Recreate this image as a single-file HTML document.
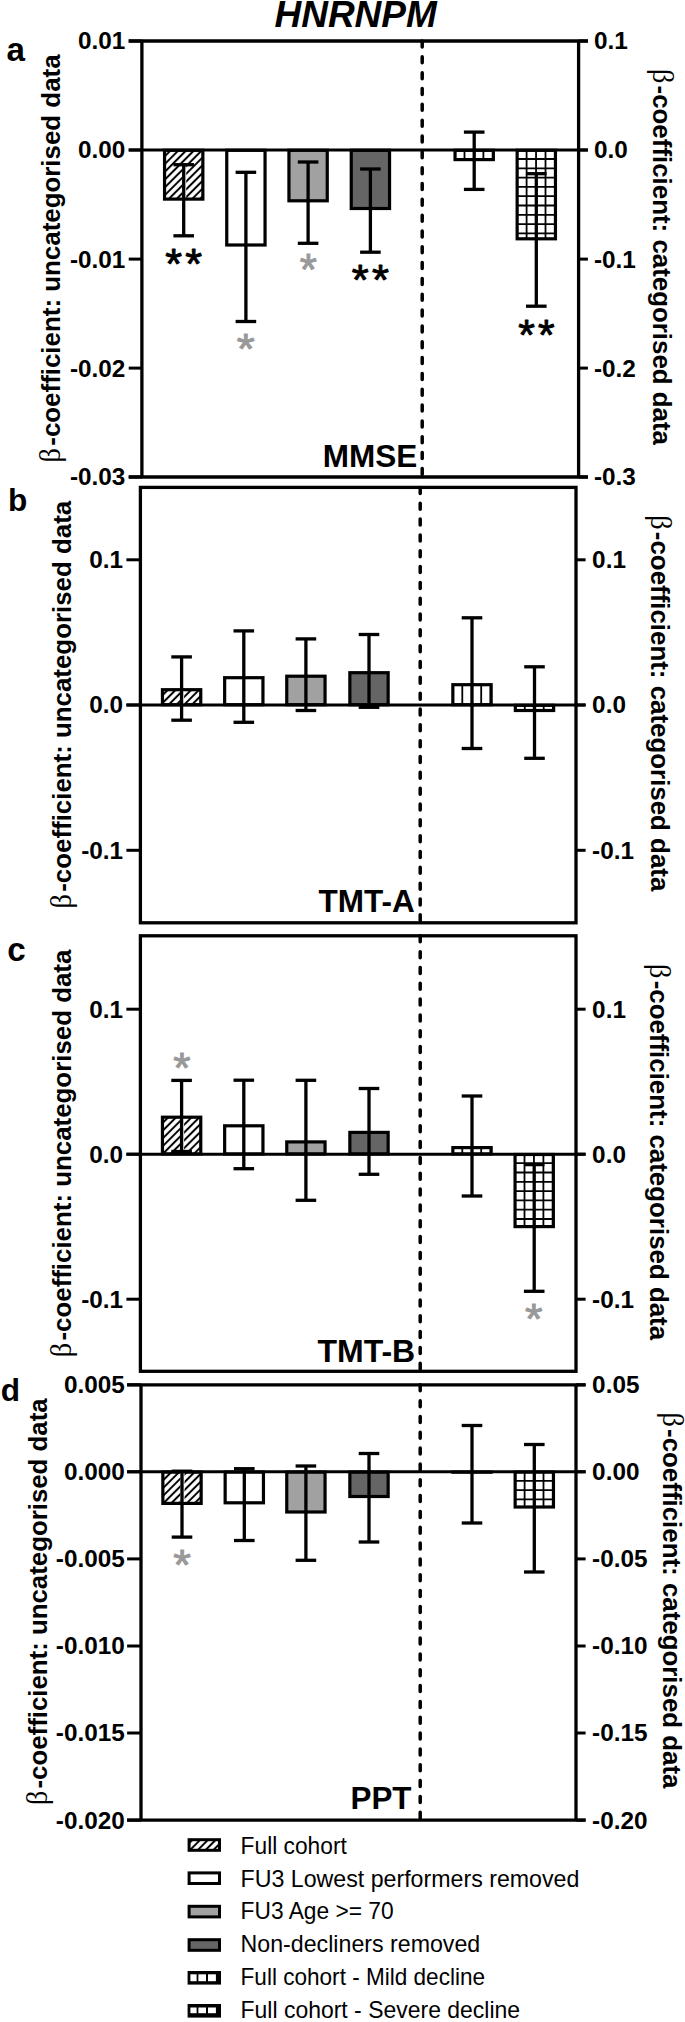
<!DOCTYPE html>
<html lang="en"><head><meta charset="utf-8"><title>HNRNPM</title>
<style>
html,body{margin:0;padding:0;background:#fff;}
body{width:685px;height:2022px;overflow:hidden;}
svg{display:block;}
text{white-space:pre;}
</style></head><body>
<svg width="685" height="2022" viewBox="0 0 685 2022">
<defs>
<pattern id="hatch" patternUnits="userSpaceOnUse" width="5.5" height="5.5" patternTransform="translate(6.08,0) rotate(-45)">
<rect width="5.5" height="5.5" fill="#fff"/><line x1="-1" y1="2.75" x2="6.5" y2="2.75" stroke="#000" stroke-width="2.0"/></pattern>
</defs>
<rect width="685" height="2022" fill="#fff"/>

<text transform="translate(274.46,27.17) scale(1.0000,1)" font-family="'Liberation Sans', Arial, Helvetica, sans-serif" font-size="37.01" font-weight="bold" font-style="italic" fill="#000">HNRNPM</text>
<rect x="164.55" y="150.30" width="38.30" height="48.80" fill="url(#hatch)" stroke="none"/>
<rect x="164.55" y="150.30" width="38.30" height="48.80" fill="none" stroke="#000" stroke-width="3.2"/>
<rect x="226.75" y="150.30" width="38.30" height="94.70" fill="#fff" stroke="none"/>
<rect x="226.75" y="150.30" width="38.30" height="94.70" fill="none" stroke="#000" stroke-width="3.2"/>
<rect x="288.95" y="150.30" width="38.30" height="50.50" fill="#a1a1a1" stroke="none"/>
<rect x="288.95" y="150.30" width="38.30" height="50.50" fill="none" stroke="#000" stroke-width="3.2"/>
<rect x="351.25" y="150.30" width="38.30" height="58.20" fill="#656565" stroke="none"/>
<rect x="351.25" y="150.30" width="38.30" height="58.20" fill="none" stroke="#000" stroke-width="3.2"/>
<rect x="455.05" y="150.30" width="38.30" height="9.30" fill="#fff" stroke="none"/>
<line x1="464.50" y1="150.30" x2="464.50" y2="159.60" stroke="#000" stroke-width="1.8" />
<line x1="473.95" y1="150.30" x2="473.95" y2="159.60" stroke="#000" stroke-width="1.8" />
<line x1="483.40" y1="150.30" x2="483.40" y2="159.60" stroke="#000" stroke-width="1.8" />
<line x1="492.85" y1="150.30" x2="492.85" y2="159.60" stroke="#000" stroke-width="1.8" />
<rect x="455.05" y="150.30" width="38.30" height="9.30" fill="none" stroke="#000" stroke-width="3.2"/>
<rect x="517.15" y="150.30" width="38.30" height="88.50" fill="#fff" stroke="none"/>
<line x1="526.60" y1="150.30" x2="526.60" y2="238.80" stroke="#000" stroke-width="1.8" />
<line x1="536.05" y1="150.30" x2="536.05" y2="238.80" stroke="#000" stroke-width="1.8" />
<line x1="545.50" y1="150.30" x2="545.50" y2="238.80" stroke="#000" stroke-width="1.8" />
<line x1="554.95" y1="150.30" x2="554.95" y2="238.80" stroke="#000" stroke-width="1.8" />
<line x1="517.15" y1="159.00" x2="555.45" y2="159.00" stroke="#000" stroke-width="1.8" />
<line x1="517.15" y1="168.30" x2="555.45" y2="168.30" stroke="#000" stroke-width="1.8" />
<line x1="517.15" y1="177.60" x2="555.45" y2="177.60" stroke="#000" stroke-width="1.8" />
<line x1="517.15" y1="186.90" x2="555.45" y2="186.90" stroke="#000" stroke-width="1.8" />
<line x1="517.15" y1="196.20" x2="555.45" y2="196.20" stroke="#000" stroke-width="1.8" />
<line x1="517.15" y1="205.50" x2="555.45" y2="205.50" stroke="#000" stroke-width="1.8" />
<line x1="517.15" y1="214.80" x2="555.45" y2="214.80" stroke="#000" stroke-width="1.8" />
<line x1="517.15" y1="224.10" x2="555.45" y2="224.10" stroke="#000" stroke-width="1.8" />
<line x1="517.15" y1="233.40" x2="555.45" y2="233.40" stroke="#000" stroke-width="1.8" />
<rect x="517.15" y="150.30" width="38.30" height="88.50" fill="none" stroke="#000" stroke-width="3.2"/>
<line x1="141.90" y1="41.00" x2="141.90" y2="477.00" stroke="#000" stroke-width="3.3" />
<line x1="578.60" y1="41.00" x2="578.60" y2="477.00" stroke="#000" stroke-width="3.3" />
<line x1="128.70" y1="41.00" x2="141.90" y2="41.00" stroke="#000" stroke-width="3.0" />
<text transform="translate(125.40,49.40) scale(1.04,1)" font-family="'Liberation Sans', Arial, Helvetica, sans-serif" font-size="23.4" font-weight="bold" text-anchor="end" fill="#000">0.01</text>
<line x1="128.70" y1="150.00" x2="141.90" y2="150.00" stroke="#000" stroke-width="3.0" />
<text transform="translate(125.40,158.40) scale(1.04,1)" font-family="'Liberation Sans', Arial, Helvetica, sans-serif" font-size="23.4" font-weight="bold" text-anchor="end" fill="#000">0.00</text>
<line x1="128.70" y1="259.10" x2="141.90" y2="259.10" stroke="#000" stroke-width="3.0" />
<text transform="translate(125.40,267.50) scale(1.04,1)" font-family="'Liberation Sans', Arial, Helvetica, sans-serif" font-size="23.4" font-weight="bold" text-anchor="end" fill="#000">-0.01</text>
<line x1="128.70" y1="368.10" x2="141.90" y2="368.10" stroke="#000" stroke-width="3.0" />
<text transform="translate(125.40,376.50) scale(1.04,1)" font-family="'Liberation Sans', Arial, Helvetica, sans-serif" font-size="23.4" font-weight="bold" text-anchor="end" fill="#000">-0.02</text>
<line x1="128.70" y1="477.00" x2="141.90" y2="477.00" stroke="#000" stroke-width="3.0" />
<text transform="translate(125.40,485.40) scale(1.04,1)" font-family="'Liberation Sans', Arial, Helvetica, sans-serif" font-size="23.4" font-weight="bold" text-anchor="end" fill="#000">-0.03</text>
<line x1="578.60" y1="41.00" x2="587.90" y2="41.00" stroke="#000" stroke-width="3.0" />
<text transform="translate(593.90,49.40) scale(1.04,1)" font-family="'Liberation Sans', Arial, Helvetica, sans-serif" font-size="23.4" font-weight="bold" text-anchor="start" fill="#000">0.1</text>
<line x1="578.60" y1="150.00" x2="587.90" y2="150.00" stroke="#000" stroke-width="3.0" />
<text transform="translate(593.90,158.40) scale(1.04,1)" font-family="'Liberation Sans', Arial, Helvetica, sans-serif" font-size="23.4" font-weight="bold" text-anchor="start" fill="#000">0.0</text>
<line x1="578.60" y1="259.10" x2="587.90" y2="259.10" stroke="#000" stroke-width="3.0" />
<text transform="translate(593.90,267.50) scale(1.04,1)" font-family="'Liberation Sans', Arial, Helvetica, sans-serif" font-size="23.4" font-weight="bold" text-anchor="start" fill="#000">-0.1</text>
<line x1="578.60" y1="368.10" x2="587.90" y2="368.10" stroke="#000" stroke-width="3.0" />
<text transform="translate(593.90,376.50) scale(1.04,1)" font-family="'Liberation Sans', Arial, Helvetica, sans-serif" font-size="23.4" font-weight="bold" text-anchor="start" fill="#000">-0.2</text>
<line x1="578.60" y1="477.00" x2="587.90" y2="477.00" stroke="#000" stroke-width="3.0" />
<text transform="translate(593.90,485.40) scale(1.04,1)" font-family="'Liberation Sans', Arial, Helvetica, sans-serif" font-size="23.4" font-weight="bold" text-anchor="start" fill="#000">-0.3</text>
<line x1="128.70" y1="41.00" x2="587.90" y2="41.00" stroke="#000" stroke-width="3.3" />
<line x1="128.70" y1="477.00" x2="587.90" y2="477.00" stroke="#000" stroke-width="3.3" />
<line x1="128.70" y1="150.00" x2="587.90" y2="150.00" stroke="#000" stroke-width="3.1" />
<line x1="422.20" y1="41.00" x2="422.20" y2="477.00" stroke="#000" stroke-width="3.5" stroke-dasharray="6.0 9.83" stroke-linecap="round"/>
<rect x="182.05" y="166.35" width="4.20" height="31.15" fill="#fff"/>
<line x1="183.70" y1="164.70" x2="183.70" y2="235.80" stroke="#000" stroke-width="3.3" />
<line x1="173.40" y1="164.70" x2="194.00" y2="164.70" stroke="#000" stroke-width="3.3" />
<line x1="173.40" y1="235.80" x2="194.00" y2="235.80" stroke="#000" stroke-width="3.3" />
<line x1="245.90" y1="172.30" x2="245.90" y2="321.50" stroke="#000" stroke-width="3.3" />
<line x1="235.60" y1="172.30" x2="256.20" y2="172.30" stroke="#000" stroke-width="3.3" />
<line x1="235.60" y1="321.50" x2="256.20" y2="321.50" stroke="#000" stroke-width="3.3" />
<line x1="308.10" y1="162.00" x2="308.10" y2="243.30" stroke="#000" stroke-width="3.3" />
<line x1="297.80" y1="162.00" x2="318.40" y2="162.00" stroke="#000" stroke-width="3.3" />
<line x1="297.80" y1="243.30" x2="318.40" y2="243.30" stroke="#000" stroke-width="3.3" />
<line x1="370.40" y1="169.00" x2="370.40" y2="252.20" stroke="#000" stroke-width="3.3" />
<line x1="360.10" y1="169.00" x2="380.70" y2="169.00" stroke="#000" stroke-width="3.3" />
<line x1="360.10" y1="252.20" x2="380.70" y2="252.20" stroke="#000" stroke-width="3.3" />
<line x1="474.20" y1="132.10" x2="474.20" y2="189.40" stroke="#000" stroke-width="3.3" />
<line x1="463.90" y1="132.10" x2="484.50" y2="132.10" stroke="#000" stroke-width="3.3" />
<line x1="463.90" y1="189.40" x2="484.50" y2="189.40" stroke="#000" stroke-width="3.3" />
<line x1="536.30" y1="173.70" x2="536.30" y2="306.20" stroke="#000" stroke-width="3.3" />
<line x1="526.00" y1="173.70" x2="546.60" y2="173.70" stroke="#000" stroke-width="3.3" />
<line x1="526.00" y1="306.20" x2="546.60" y2="306.20" stroke="#000" stroke-width="3.3" />
<text transform="translate(165.17,278.48) scale(1.0028,1)" font-family="'Liberation Sans', Arial, Helvetica, sans-serif" font-size="42.97" font-weight="normal" fill="#000"><tspan stroke="#000" stroke-width="0.022em" stroke-linejoin="round" letter-spacing="0.075em">**</tspan></text>
<text transform="translate(236.84,363.29) scale(1.0823,1)" font-family="'Liberation Sans', Arial, Helvetica, sans-serif" font-size="42.70" font-weight="normal" fill="#999999"><tspan stroke="#999999" stroke-width="0.022em" stroke-linejoin="round">*</tspan></text>
<text transform="translate(299.86,285.16) scale(1.0124,1)" font-family="'Liberation Sans', Arial, Helvetica, sans-serif" font-size="43.51" font-weight="normal" fill="#999999"><tspan stroke="#999999" stroke-width="0.022em" stroke-linejoin="round">*</tspan></text>
<text transform="translate(351.66,293.90) scale(1.0268,1)" font-family="'Liberation Sans', Arial, Helvetica, sans-serif" font-size="42.43" font-weight="normal" fill="#000"><tspan stroke="#000" stroke-width="0.022em" stroke-linejoin="round" letter-spacing="0.075em">**</tspan></text>
<text transform="translate(518.27,348.77) scale(0.9856,1)" font-family="'Liberation Sans', Arial, Helvetica, sans-serif" font-size="43.24" font-weight="normal" fill="#000"><tspan stroke="#000" stroke-width="0.022em" stroke-linejoin="round" letter-spacing="0.075em">**</tspan></text>
<text transform="translate(322.79,466.53) scale(1.0000,1)" font-family="'Liberation Sans', Arial, Helvetica, sans-serif" font-size="31.52" font-weight="bold" fill="#000">MMSE</text>
<text transform="translate(6.56,60.80) scale(1.0000,1)" font-family="'Liberation Sans', Arial, Helvetica, sans-serif" font-size="33.20" font-weight="bold" fill="#000">a</text>
<text transform="translate(60.20,462.41) rotate(-90) scale(0.9962,1.02)" font-family="'Liberation Sans', Arial, Helvetica, sans-serif" font-size="26.00" font-weight="bold" fill="#000"><tspan font-family="'Liberation Serif', 'Times New Roman', serif" font-weight="normal" font-size="1.09em">β</tspan><tspan dx="0.09em">-coefficient: uncategorised data</tspan></text>
<text transform="translate(652.70,68.89) rotate(90) scale(0.9960,1.02)" font-family="'Liberation Sans', Arial, Helvetica, sans-serif" font-size="26.00" font-weight="bold" fill="#000"><tspan font-family="'Liberation Serif', 'Times New Roman', serif" font-weight="normal" font-size="1.09em">β</tspan><tspan dx="0.09em">-coefficient: categorised data</tspan></text>
<rect x="162.45" y="689.70" width="38.30" height="15.00" fill="url(#hatch)" stroke="none"/>
<rect x="162.45" y="689.70" width="38.30" height="15.00" fill="none" stroke="#000" stroke-width="3.2"/>
<rect x="224.65" y="677.70" width="38.30" height="27.00" fill="#fff" stroke="none"/>
<rect x="224.65" y="677.70" width="38.30" height="27.00" fill="none" stroke="#000" stroke-width="3.2"/>
<rect x="286.75" y="676.20" width="38.30" height="28.50" fill="#a1a1a1" stroke="none"/>
<rect x="286.75" y="676.20" width="38.30" height="28.50" fill="none" stroke="#000" stroke-width="3.2"/>
<rect x="349.85" y="672.70" width="38.30" height="32.00" fill="#656565" stroke="none"/>
<rect x="349.85" y="672.70" width="38.30" height="32.00" fill="none" stroke="#000" stroke-width="3.2"/>
<rect x="452.85" y="684.70" width="38.30" height="20.00" fill="#fff" stroke="none"/>
<line x1="462.30" y1="684.70" x2="462.30" y2="704.70" stroke="#000" stroke-width="1.8" />
<line x1="471.75" y1="684.70" x2="471.75" y2="704.70" stroke="#000" stroke-width="1.8" />
<line x1="481.20" y1="684.70" x2="481.20" y2="704.70" stroke="#000" stroke-width="1.8" />
<line x1="490.65" y1="684.70" x2="490.65" y2="704.70" stroke="#000" stroke-width="1.8" />
<rect x="452.85" y="684.70" width="38.30" height="20.00" fill="none" stroke="#000" stroke-width="3.2"/>
<rect x="515.35" y="705.30" width="38.30" height="5.20" fill="#fff" stroke="none"/>
<line x1="524.80" y1="705.30" x2="524.80" y2="710.50" stroke="#000" stroke-width="1.8" />
<line x1="534.25" y1="705.30" x2="534.25" y2="710.50" stroke="#000" stroke-width="1.8" />
<line x1="543.70" y1="705.30" x2="543.70" y2="710.50" stroke="#000" stroke-width="1.8" />
<line x1="553.15" y1="705.30" x2="553.15" y2="710.50" stroke="#000" stroke-width="1.8" />
<rect x="515.35" y="705.30" width="38.30" height="5.20" fill="none" stroke="#000" stroke-width="3.2"/>
<rect x="140.40" y="487.40" width="435.60" height="435.40" fill="none" stroke="#000" stroke-width="3.3"/>
<line x1="126.40" y1="559.80" x2="140.40" y2="559.80" stroke="#000" stroke-width="3.0" />
<text transform="translate(123.10,568.20) scale(1.04,1)" font-family="'Liberation Sans', Arial, Helvetica, sans-serif" font-size="23.4" font-weight="bold" text-anchor="end" fill="#000">0.1</text>
<line x1="126.40" y1="705.00" x2="140.40" y2="705.00" stroke="#000" stroke-width="3.0" />
<text transform="translate(123.10,713.40) scale(1.04,1)" font-family="'Liberation Sans', Arial, Helvetica, sans-serif" font-size="23.4" font-weight="bold" text-anchor="end" fill="#000">0.0</text>
<line x1="126.40" y1="850.30" x2="140.40" y2="850.30" stroke="#000" stroke-width="3.0" />
<text transform="translate(123.10,858.70) scale(1.04,1)" font-family="'Liberation Sans', Arial, Helvetica, sans-serif" font-size="23.4" font-weight="bold" text-anchor="end" fill="#000">-0.1</text>
<line x1="576.00" y1="559.80" x2="585.60" y2="559.80" stroke="#000" stroke-width="3.0" />
<text transform="translate(592.10,568.20) scale(1.04,1)" font-family="'Liberation Sans', Arial, Helvetica, sans-serif" font-size="23.4" font-weight="bold" text-anchor="start" fill="#000">0.1</text>
<line x1="576.00" y1="705.00" x2="585.60" y2="705.00" stroke="#000" stroke-width="3.0" />
<text transform="translate(592.10,713.40) scale(1.04,1)" font-family="'Liberation Sans', Arial, Helvetica, sans-serif" font-size="23.4" font-weight="bold" text-anchor="start" fill="#000">0.0</text>
<line x1="576.00" y1="850.30" x2="585.60" y2="850.30" stroke="#000" stroke-width="3.0" />
<text transform="translate(592.10,858.70) scale(1.04,1)" font-family="'Liberation Sans', Arial, Helvetica, sans-serif" font-size="23.4" font-weight="bold" text-anchor="start" fill="#000">-0.1</text>
<line x1="126.40" y1="705.00" x2="585.60" y2="705.00" stroke="#000" stroke-width="3.1" />
<line x1="420.20" y1="487.40" x2="420.20" y2="922.80" stroke="#000" stroke-width="3.5" stroke-dasharray="6.0 9.83" stroke-linecap="round"/>
<rect x="179.95" y="691.30" width="4.20" height="12.10" fill="#fff"/>
<line x1="181.60" y1="656.90" x2="181.60" y2="720.20" stroke="#000" stroke-width="3.3" />
<line x1="171.30" y1="656.90" x2="191.90" y2="656.90" stroke="#000" stroke-width="3.3" />
<line x1="171.30" y1="720.20" x2="191.90" y2="720.20" stroke="#000" stroke-width="3.3" />
<line x1="243.80" y1="630.90" x2="243.80" y2="722.30" stroke="#000" stroke-width="3.3" />
<line x1="233.50" y1="630.90" x2="254.10" y2="630.90" stroke="#000" stroke-width="3.3" />
<line x1="233.50" y1="722.30" x2="254.10" y2="722.30" stroke="#000" stroke-width="3.3" />
<line x1="305.90" y1="638.90" x2="305.90" y2="710.50" stroke="#000" stroke-width="3.3" />
<line x1="295.60" y1="638.90" x2="316.20" y2="638.90" stroke="#000" stroke-width="3.3" />
<line x1="295.60" y1="710.50" x2="316.20" y2="710.50" stroke="#000" stroke-width="3.3" />
<line x1="369.00" y1="634.50" x2="369.00" y2="707.30" stroke="#000" stroke-width="3.3" />
<line x1="358.70" y1="634.50" x2="379.30" y2="634.50" stroke="#000" stroke-width="3.3" />
<line x1="358.70" y1="707.30" x2="379.30" y2="707.30" stroke="#000" stroke-width="3.3" />
<line x1="472.00" y1="617.80" x2="472.00" y2="748.50" stroke="#000" stroke-width="3.3" />
<line x1="461.70" y1="617.80" x2="482.30" y2="617.80" stroke="#000" stroke-width="3.3" />
<line x1="461.70" y1="748.50" x2="482.30" y2="748.50" stroke="#000" stroke-width="3.3" />
<line x1="534.50" y1="666.80" x2="534.50" y2="758.30" stroke="#000" stroke-width="3.3" />
<line x1="524.20" y1="666.80" x2="544.80" y2="666.80" stroke="#000" stroke-width="3.3" />
<line x1="524.20" y1="758.30" x2="544.80" y2="758.30" stroke="#000" stroke-width="3.3" />
<text transform="translate(318.58,912.33) scale(1.0000,1)" font-family="'Liberation Sans', Arial, Helvetica, sans-serif" font-size="31.53" font-weight="bold" fill="#000">TMT-A</text>
<text transform="translate(8.04,510.78) scale(1.0000,1)" font-family="'Liberation Sans', Arial, Helvetica, sans-serif" font-size="31.60" font-weight="bold" fill="#000">b</text>
<text transform="translate(71.20,908.41) rotate(-90) scale(0.9952,1.02)" font-family="'Liberation Sans', Arial, Helvetica, sans-serif" font-size="26.00" font-weight="bold" fill="#000"><tspan font-family="'Liberation Serif', 'Times New Roman', serif" font-weight="normal" font-size="1.09em">β</tspan><tspan dx="0.09em">-coefficient: uncategorised data</tspan></text>
<text transform="translate(650.60,515.19) rotate(90) scale(0.9960,1.02)" font-family="'Liberation Sans', Arial, Helvetica, sans-serif" font-size="26.00" font-weight="bold" fill="#000"><tspan font-family="'Liberation Serif', 'Times New Roman', serif" font-weight="normal" font-size="1.09em">β</tspan><tspan dx="0.09em">-coefficient: categorised data</tspan></text>
<rect x="162.45" y="1117.20" width="38.30" height="36.70" fill="url(#hatch)" stroke="none"/>
<rect x="162.45" y="1117.20" width="38.30" height="36.70" fill="none" stroke="#000" stroke-width="3.2"/>
<rect x="224.65" y="1125.80" width="38.30" height="28.10" fill="#fff" stroke="none"/>
<rect x="224.65" y="1125.80" width="38.30" height="28.10" fill="none" stroke="#000" stroke-width="3.2"/>
<rect x="286.75" y="1141.90" width="38.30" height="12.00" fill="#a1a1a1" stroke="none"/>
<rect x="286.75" y="1141.90" width="38.30" height="12.00" fill="none" stroke="#000" stroke-width="3.2"/>
<rect x="349.85" y="1132.40" width="38.30" height="21.50" fill="#656565" stroke="none"/>
<rect x="349.85" y="1132.40" width="38.30" height="21.50" fill="none" stroke="#000" stroke-width="3.2"/>
<rect x="452.85" y="1147.60" width="38.30" height="6.30" fill="#fff" stroke="none"/>
<line x1="462.30" y1="1147.60" x2="462.30" y2="1153.90" stroke="#000" stroke-width="1.8" />
<line x1="471.75" y1="1147.60" x2="471.75" y2="1153.90" stroke="#000" stroke-width="1.8" />
<line x1="481.20" y1="1147.60" x2="481.20" y2="1153.90" stroke="#000" stroke-width="1.8" />
<line x1="490.65" y1="1147.60" x2="490.65" y2="1153.90" stroke="#000" stroke-width="1.8" />
<rect x="452.85" y="1147.60" width="38.30" height="6.30" fill="none" stroke="#000" stroke-width="3.2"/>
<rect x="515.05" y="1154.50" width="38.30" height="72.10" fill="#fff" stroke="none"/>
<line x1="524.50" y1="1154.50" x2="524.50" y2="1226.60" stroke="#000" stroke-width="1.8" />
<line x1="533.95" y1="1154.50" x2="533.95" y2="1226.60" stroke="#000" stroke-width="1.8" />
<line x1="543.40" y1="1154.50" x2="543.40" y2="1226.60" stroke="#000" stroke-width="1.8" />
<line x1="552.85" y1="1154.50" x2="552.85" y2="1226.60" stroke="#000" stroke-width="1.8" />
<line x1="515.05" y1="1163.20" x2="553.35" y2="1163.20" stroke="#000" stroke-width="1.8" />
<line x1="515.05" y1="1172.50" x2="553.35" y2="1172.50" stroke="#000" stroke-width="1.8" />
<line x1="515.05" y1="1181.80" x2="553.35" y2="1181.80" stroke="#000" stroke-width="1.8" />
<line x1="515.05" y1="1191.10" x2="553.35" y2="1191.10" stroke="#000" stroke-width="1.8" />
<line x1="515.05" y1="1200.40" x2="553.35" y2="1200.40" stroke="#000" stroke-width="1.8" />
<line x1="515.05" y1="1209.70" x2="553.35" y2="1209.70" stroke="#000" stroke-width="1.8" />
<line x1="515.05" y1="1219.00" x2="553.35" y2="1219.00" stroke="#000" stroke-width="1.8" />
<rect x="515.05" y="1154.50" width="38.30" height="72.10" fill="none" stroke="#000" stroke-width="3.2"/>
<rect x="140.40" y="935.80" width="435.60" height="435.50" fill="none" stroke="#000" stroke-width="3.3"/>
<line x1="126.40" y1="1009.20" x2="140.40" y2="1009.20" stroke="#000" stroke-width="3.0" />
<text transform="translate(123.10,1017.60) scale(1.04,1)" font-family="'Liberation Sans', Arial, Helvetica, sans-serif" font-size="23.4" font-weight="bold" text-anchor="end" fill="#000">0.1</text>
<line x1="126.40" y1="1154.20" x2="140.40" y2="1154.20" stroke="#000" stroke-width="3.0" />
<text transform="translate(123.10,1162.60) scale(1.04,1)" font-family="'Liberation Sans', Arial, Helvetica, sans-serif" font-size="23.4" font-weight="bold" text-anchor="end" fill="#000">0.0</text>
<line x1="126.40" y1="1299.20" x2="140.40" y2="1299.20" stroke="#000" stroke-width="3.0" />
<text transform="translate(123.10,1307.60) scale(1.04,1)" font-family="'Liberation Sans', Arial, Helvetica, sans-serif" font-size="23.4" font-weight="bold" text-anchor="end" fill="#000">-0.1</text>
<line x1="576.00" y1="1009.20" x2="585.60" y2="1009.20" stroke="#000" stroke-width="3.0" />
<text transform="translate(592.10,1017.60) scale(1.04,1)" font-family="'Liberation Sans', Arial, Helvetica, sans-serif" font-size="23.4" font-weight="bold" text-anchor="start" fill="#000">0.1</text>
<line x1="576.00" y1="1154.20" x2="585.60" y2="1154.20" stroke="#000" stroke-width="3.0" />
<text transform="translate(592.10,1162.60) scale(1.04,1)" font-family="'Liberation Sans', Arial, Helvetica, sans-serif" font-size="23.4" font-weight="bold" text-anchor="start" fill="#000">0.0</text>
<line x1="576.00" y1="1299.20" x2="585.60" y2="1299.20" stroke="#000" stroke-width="3.0" />
<text transform="translate(592.10,1307.60) scale(1.04,1)" font-family="'Liberation Sans', Arial, Helvetica, sans-serif" font-size="23.4" font-weight="bold" text-anchor="start" fill="#000">-0.1</text>
<line x1="126.40" y1="1154.20" x2="585.60" y2="1154.20" stroke="#000" stroke-width="3.1" />
<line x1="420.20" y1="935.80" x2="420.20" y2="1371.30" stroke="#000" stroke-width="3.5" stroke-dasharray="6.0 9.83" stroke-linecap="round"/>
<rect x="179.95" y="1118.80" width="4.20" height="31.05" fill="#fff"/>
<line x1="181.60" y1="1080.40" x2="181.60" y2="1151.50" stroke="#000" stroke-width="3.3" />
<line x1="171.30" y1="1080.40" x2="191.90" y2="1080.40" stroke="#000" stroke-width="3.3" />
<line x1="171.30" y1="1151.50" x2="191.90" y2="1151.50" stroke="#000" stroke-width="3.3" />
<line x1="243.80" y1="1080.20" x2="243.80" y2="1168.70" stroke="#000" stroke-width="3.3" />
<line x1="233.50" y1="1080.20" x2="254.10" y2="1080.20" stroke="#000" stroke-width="3.3" />
<line x1="233.50" y1="1168.70" x2="254.10" y2="1168.70" stroke="#000" stroke-width="3.3" />
<line x1="305.90" y1="1080.30" x2="305.90" y2="1200.30" stroke="#000" stroke-width="3.3" />
<line x1="295.60" y1="1080.30" x2="316.20" y2="1080.30" stroke="#000" stroke-width="3.3" />
<line x1="295.60" y1="1200.30" x2="316.20" y2="1200.30" stroke="#000" stroke-width="3.3" />
<line x1="369.00" y1="1088.50" x2="369.00" y2="1174.30" stroke="#000" stroke-width="3.3" />
<line x1="358.70" y1="1088.50" x2="379.30" y2="1088.50" stroke="#000" stroke-width="3.3" />
<line x1="358.70" y1="1174.30" x2="379.30" y2="1174.30" stroke="#000" stroke-width="3.3" />
<line x1="472.00" y1="1096.00" x2="472.00" y2="1196.00" stroke="#000" stroke-width="3.3" />
<line x1="461.70" y1="1096.00" x2="482.30" y2="1096.00" stroke="#000" stroke-width="3.3" />
<line x1="461.70" y1="1196.00" x2="482.30" y2="1196.00" stroke="#000" stroke-width="3.3" />
<line x1="534.20" y1="1164.60" x2="534.20" y2="1291.30" stroke="#000" stroke-width="3.3" />
<line x1="523.90" y1="1164.60" x2="544.50" y2="1164.60" stroke="#000" stroke-width="3.3" />
<line x1="523.90" y1="1291.30" x2="544.50" y2="1291.30" stroke="#000" stroke-width="3.3" />
<text transform="translate(173.16,1081.52) scale(1.0581,1)" font-family="'Liberation Sans', Arial, Helvetica, sans-serif" font-size="41.89" font-weight="normal" fill="#999999"><tspan stroke="#999999" stroke-width="0.022em" stroke-linejoin="round">*</tspan></text>
<text transform="translate(524.95,1333.09) scale(1.0570,1)" font-family="'Liberation Sans', Arial, Helvetica, sans-serif" font-size="42.70" font-weight="normal" fill="#999999"><tspan stroke="#999999" stroke-width="0.022em" stroke-linejoin="round">*</tspan></text>
<text transform="translate(317.48,1361.74) scale(1.0000,1)" font-family="'Liberation Sans', Arial, Helvetica, sans-serif" font-size="32.00" font-weight="bold" fill="#000">TMT-B</text>
<text transform="translate(7.29,960.65) scale(1.0000,1)" font-family="'Liberation Sans', Arial, Helvetica, sans-serif" font-size="33.20" font-weight="bold" fill="#000">c</text>
<text transform="translate(71.20,1357.21) rotate(-90) scale(0.9952,1.02)" font-family="'Liberation Sans', Arial, Helvetica, sans-serif" font-size="26.00" font-weight="bold" fill="#000"><tspan font-family="'Liberation Serif', 'Times New Roman', serif" font-weight="normal" font-size="1.09em">β</tspan><tspan dx="0.09em">-coefficient: uncategorised data</tspan></text>
<text transform="translate(650.20,963.99) rotate(90) scale(0.9960,1.02)" font-family="'Liberation Sans', Arial, Helvetica, sans-serif" font-size="26.00" font-weight="bold" fill="#000"><tspan font-family="'Liberation Serif', 'Times New Roman', serif" font-weight="normal" font-size="1.09em">β</tspan><tspan dx="0.09em">-coefficient: categorised data</tspan></text>
<rect x="162.85" y="1472.10" width="38.30" height="31.30" fill="url(#hatch)" stroke="none"/>
<rect x="162.85" y="1472.10" width="38.30" height="31.30" fill="none" stroke="#000" stroke-width="3.2"/>
<rect x="225.15" y="1472.10" width="38.30" height="30.70" fill="#fff" stroke="none"/>
<rect x="225.15" y="1472.10" width="38.30" height="30.70" fill="none" stroke="#000" stroke-width="3.2"/>
<rect x="286.75" y="1472.10" width="38.30" height="39.90" fill="#a1a1a1" stroke="none"/>
<rect x="286.75" y="1472.10" width="38.30" height="39.90" fill="none" stroke="#000" stroke-width="3.2"/>
<rect x="349.85" y="1472.10" width="38.30" height="24.40" fill="#656565" stroke="none"/>
<rect x="349.85" y="1472.10" width="38.30" height="24.40" fill="none" stroke="#000" stroke-width="3.2"/>
<rect x="452.85" y="1472.10" width="38.30" height="0.10" fill="#fff" stroke="none"/>
<line x1="462.30" y1="1472.10" x2="462.30" y2="1472.20" stroke="#000" stroke-width="1.8" />
<line x1="471.75" y1="1472.10" x2="471.75" y2="1472.20" stroke="#000" stroke-width="1.8" />
<line x1="481.20" y1="1472.10" x2="481.20" y2="1472.20" stroke="#000" stroke-width="1.8" />
<line x1="490.65" y1="1472.10" x2="490.65" y2="1472.20" stroke="#000" stroke-width="1.8" />
<rect x="452.85" y="1472.10" width="38.30" height="0.10" fill="none" stroke="#000" stroke-width="3.2"/>
<rect x="515.15" y="1472.10" width="38.30" height="34.90" fill="#fff" stroke="none"/>
<line x1="524.60" y1="1472.10" x2="524.60" y2="1507.00" stroke="#000" stroke-width="1.8" />
<line x1="534.05" y1="1472.10" x2="534.05" y2="1507.00" stroke="#000" stroke-width="1.8" />
<line x1="543.50" y1="1472.10" x2="543.50" y2="1507.00" stroke="#000" stroke-width="1.8" />
<line x1="552.95" y1="1472.10" x2="552.95" y2="1507.00" stroke="#000" stroke-width="1.8" />
<line x1="515.15" y1="1480.80" x2="553.45" y2="1480.80" stroke="#000" stroke-width="1.8" />
<line x1="515.15" y1="1490.10" x2="553.45" y2="1490.10" stroke="#000" stroke-width="1.8" />
<line x1="515.15" y1="1499.40" x2="553.45" y2="1499.40" stroke="#000" stroke-width="1.8" />
<rect x="515.15" y="1472.10" width="38.30" height="34.90" fill="none" stroke="#000" stroke-width="3.2"/>
<line x1="141.00" y1="1384.80" x2="141.00" y2="1820.10" stroke="#000" stroke-width="3.3" />
<line x1="576.00" y1="1384.80" x2="576.00" y2="1820.10" stroke="#000" stroke-width="3.3" />
<line x1="127.10" y1="1384.80" x2="141.00" y2="1384.80" stroke="#000" stroke-width="3.0" />
<text transform="translate(124.80,1393.20) scale(1.04,1)" font-family="'Liberation Sans', Arial, Helvetica, sans-serif" font-size="23.4" font-weight="bold" text-anchor="end" fill="#000">0.005</text>
<line x1="127.10" y1="1471.80" x2="141.00" y2="1471.80" stroke="#000" stroke-width="3.0" />
<text transform="translate(124.80,1480.20) scale(1.04,1)" font-family="'Liberation Sans', Arial, Helvetica, sans-serif" font-size="23.4" font-weight="bold" text-anchor="end" fill="#000">0.000</text>
<line x1="127.10" y1="1558.90" x2="141.00" y2="1558.90" stroke="#000" stroke-width="3.0" />
<text transform="translate(124.80,1567.30) scale(1.04,1)" font-family="'Liberation Sans', Arial, Helvetica, sans-serif" font-size="23.4" font-weight="bold" text-anchor="end" fill="#000">-0.005</text>
<line x1="127.10" y1="1646.00" x2="141.00" y2="1646.00" stroke="#000" stroke-width="3.0" />
<text transform="translate(124.80,1654.40) scale(1.04,1)" font-family="'Liberation Sans', Arial, Helvetica, sans-serif" font-size="23.4" font-weight="bold" text-anchor="end" fill="#000">-0.010</text>
<line x1="127.10" y1="1733.00" x2="141.00" y2="1733.00" stroke="#000" stroke-width="3.0" />
<text transform="translate(124.80,1741.40) scale(1.04,1)" font-family="'Liberation Sans', Arial, Helvetica, sans-serif" font-size="23.4" font-weight="bold" text-anchor="end" fill="#000">-0.015</text>
<line x1="127.10" y1="1820.10" x2="141.00" y2="1820.10" stroke="#000" stroke-width="3.0" />
<text transform="translate(124.80,1828.50) scale(1.04,1)" font-family="'Liberation Sans', Arial, Helvetica, sans-serif" font-size="23.4" font-weight="bold" text-anchor="end" fill="#000">-0.020</text>
<line x1="576.00" y1="1384.80" x2="585.60" y2="1384.80" stroke="#000" stroke-width="3.0" />
<text transform="translate(592.10,1393.20) scale(1.04,1)" font-family="'Liberation Sans', Arial, Helvetica, sans-serif" font-size="23.4" font-weight="bold" text-anchor="start" fill="#000">0.05</text>
<line x1="576.00" y1="1471.80" x2="585.60" y2="1471.80" stroke="#000" stroke-width="3.0" />
<text transform="translate(592.10,1480.20) scale(1.04,1)" font-family="'Liberation Sans', Arial, Helvetica, sans-serif" font-size="23.4" font-weight="bold" text-anchor="start" fill="#000">0.00</text>
<line x1="576.00" y1="1558.90" x2="585.60" y2="1558.90" stroke="#000" stroke-width="3.0" />
<text transform="translate(592.10,1567.30) scale(1.04,1)" font-family="'Liberation Sans', Arial, Helvetica, sans-serif" font-size="23.4" font-weight="bold" text-anchor="start" fill="#000">-0.05</text>
<line x1="576.00" y1="1646.00" x2="585.60" y2="1646.00" stroke="#000" stroke-width="3.0" />
<text transform="translate(592.10,1654.40) scale(1.04,1)" font-family="'Liberation Sans', Arial, Helvetica, sans-serif" font-size="23.4" font-weight="bold" text-anchor="start" fill="#000">-0.10</text>
<line x1="576.00" y1="1733.00" x2="585.60" y2="1733.00" stroke="#000" stroke-width="3.0" />
<text transform="translate(592.10,1741.40) scale(1.04,1)" font-family="'Liberation Sans', Arial, Helvetica, sans-serif" font-size="23.4" font-weight="bold" text-anchor="start" fill="#000">-0.15</text>
<line x1="576.00" y1="1820.10" x2="585.60" y2="1820.10" stroke="#000" stroke-width="3.0" />
<text transform="translate(592.10,1828.50) scale(1.04,1)" font-family="'Liberation Sans', Arial, Helvetica, sans-serif" font-size="23.4" font-weight="bold" text-anchor="start" fill="#000">-0.20</text>
<line x1="127.10" y1="1384.80" x2="585.60" y2="1384.80" stroke="#000" stroke-width="3.3" />
<line x1="127.10" y1="1820.10" x2="585.60" y2="1820.10" stroke="#000" stroke-width="3.3" />
<line x1="127.10" y1="1471.80" x2="585.60" y2="1471.80" stroke="#000" stroke-width="3.1" />
<line x1="420.20" y1="1384.80" x2="420.20" y2="1820.10" stroke="#000" stroke-width="3.5" stroke-dasharray="6.0 9.83" stroke-linecap="round"/>
<rect x="180.35" y="1473.40" width="4.20" height="28.40" fill="#fff"/>
<line x1="182.00" y1="1471.20" x2="182.00" y2="1537.10" stroke="#000" stroke-width="3.3" />
<line x1="171.70" y1="1471.20" x2="192.30" y2="1471.20" stroke="#000" stroke-width="3.3" />
<line x1="171.70" y1="1537.10" x2="192.30" y2="1537.10" stroke="#000" stroke-width="3.3" />
<line x1="244.30" y1="1468.70" x2="244.30" y2="1540.50" stroke="#000" stroke-width="3.3" />
<line x1="234.00" y1="1468.70" x2="254.60" y2="1468.70" stroke="#000" stroke-width="3.3" />
<line x1="234.00" y1="1540.50" x2="254.60" y2="1540.50" stroke="#000" stroke-width="3.3" />
<line x1="305.90" y1="1466.00" x2="305.90" y2="1560.30" stroke="#000" stroke-width="3.3" />
<line x1="295.60" y1="1466.00" x2="316.20" y2="1466.00" stroke="#000" stroke-width="3.3" />
<line x1="295.60" y1="1560.30" x2="316.20" y2="1560.30" stroke="#000" stroke-width="3.3" />
<line x1="369.00" y1="1453.50" x2="369.00" y2="1542.00" stroke="#000" stroke-width="3.3" />
<line x1="358.70" y1="1453.50" x2="379.30" y2="1453.50" stroke="#000" stroke-width="3.3" />
<line x1="358.70" y1="1542.00" x2="379.30" y2="1542.00" stroke="#000" stroke-width="3.3" />
<line x1="472.00" y1="1425.50" x2="472.00" y2="1523.00" stroke="#000" stroke-width="3.3" />
<line x1="461.70" y1="1425.50" x2="482.30" y2="1425.50" stroke="#000" stroke-width="3.3" />
<line x1="461.70" y1="1523.00" x2="482.30" y2="1523.00" stroke="#000" stroke-width="3.3" />
<line x1="534.30" y1="1444.50" x2="534.30" y2="1572.00" stroke="#000" stroke-width="3.3" />
<line x1="524.00" y1="1444.50" x2="544.60" y2="1444.50" stroke="#000" stroke-width="3.3" />
<line x1="524.00" y1="1572.00" x2="544.60" y2="1572.00" stroke="#000" stroke-width="3.3" />
<text transform="translate(173.15,1579.18) scale(1.0566,1)" font-family="'Liberation Sans', Arial, Helvetica, sans-serif" font-size="42.97" font-weight="normal" fill="#999999"><tspan stroke="#999999" stroke-width="0.022em" stroke-linejoin="round">*</tspan></text>
<text transform="translate(350.50,1809.08) scale(1.0000,1)" font-family="'Liberation Sans', Arial, Helvetica, sans-serif" font-size="31.39" font-weight="bold" fill="#000">PPT</text>
<text transform="translate(0.84,1401.33) scale(1.0000,1)" font-family="'Liberation Sans', Arial, Helvetica, sans-serif" font-size="31.60" font-weight="bold" fill="#000">d</text>
<text transform="translate(47.00,1805.11) rotate(-90) scale(0.9935,1.02)" font-family="'Liberation Sans', Arial, Helvetica, sans-serif" font-size="26.00" font-weight="bold" fill="#000"><tspan font-family="'Liberation Serif', 'Times New Roman', serif" font-weight="normal" font-size="1.09em">β</tspan><tspan dx="0.09em">-coefficient: uncategorised data</tspan></text>
<text transform="translate(663.20,1412.39) rotate(90) scale(0.9960,1.02)" font-family="'Liberation Sans', Arial, Helvetica, sans-serif" font-size="26.00" font-weight="bold" fill="#000"><tspan font-family="'Liberation Serif', 'Times New Roman', serif" font-weight="normal" font-size="1.09em">β</tspan><tspan dx="0.09em">-coefficient: categorised data</tspan></text>
<rect x="189.1" y="1839.70" width="30.40" height="10.60" fill="url(#hatch)" stroke="#000" stroke-width="3.0"/>
<text transform="translate(240.58,1853.60) scale(0.9816,1)" font-family="'Liberation Sans', Arial, Helvetica, sans-serif" font-size="23.20" font-weight="normal" fill="#000">Full cohort</text>
<rect x="189.1" y="1872.90" width="30.40" height="10.60" fill="#fff" stroke="#000" stroke-width="3.0"/>
<text transform="translate(240.55,1886.53) scale(0.9994,1)" font-family="'Liberation Sans', Arial, Helvetica, sans-serif" font-size="23.20" font-weight="normal" fill="#000">FU3 Lowest performers removed</text>
<rect x="189.1" y="1906.30" width="30.40" height="10.60" fill="#a1a1a1" stroke="#000" stroke-width="3.0"/>
<text transform="translate(240.58,1919.46) scale(0.9814,1)" font-family="'Liberation Sans', Arial, Helvetica, sans-serif" font-size="23.20" font-weight="normal" fill="#000">FU3 Age &gt;= 70</text>
<rect x="189.1" y="1939.70" width="30.40" height="10.60" fill="#656565" stroke="#000" stroke-width="3.0"/>
<text transform="translate(240.54,1952.39) scale(1.0000,1)" font-family="'Liberation Sans', Arial, Helvetica, sans-serif" font-size="23.20" font-weight="normal" fill="#000">Non-decliners removed</text>
<rect x="187.6" y="1971.00" width="33.40" height="13.60" fill="#000"/>
<rect x="190.4" y="1974.30" width="6.20" height="6.90" fill="#fff"/>
<rect x="198.4" y="1974.30" width="7.60" height="6.90" fill="#fff"/>
<rect x="208.0" y="1974.30" width="7.90" height="6.90" fill="#fff"/>
<text transform="translate(240.59,1985.32) scale(0.9727,1)" font-family="'Liberation Sans', Arial, Helvetica, sans-serif" font-size="23.20" font-weight="normal" fill="#000">Full cohort - Mild decline</text>
<rect x="187.6" y="2004.00" width="33.40" height="13.60" fill="#000"/>
<rect x="190.4" y="2007.50" width="6.20" height="5.70" fill="#fff"/>
<rect x="198.4" y="2007.50" width="7.60" height="5.70" fill="#fff"/>
<rect x="208.0" y="2007.50" width="7.90" height="5.70" fill="#fff"/>
<text transform="translate(240.56,2018.25) scale(0.9898,1)" font-family="'Liberation Sans', Arial, Helvetica, sans-serif" font-size="23.20" font-weight="normal" fill="#000">Full cohort - Severe decline</text>
</svg></body></html>
